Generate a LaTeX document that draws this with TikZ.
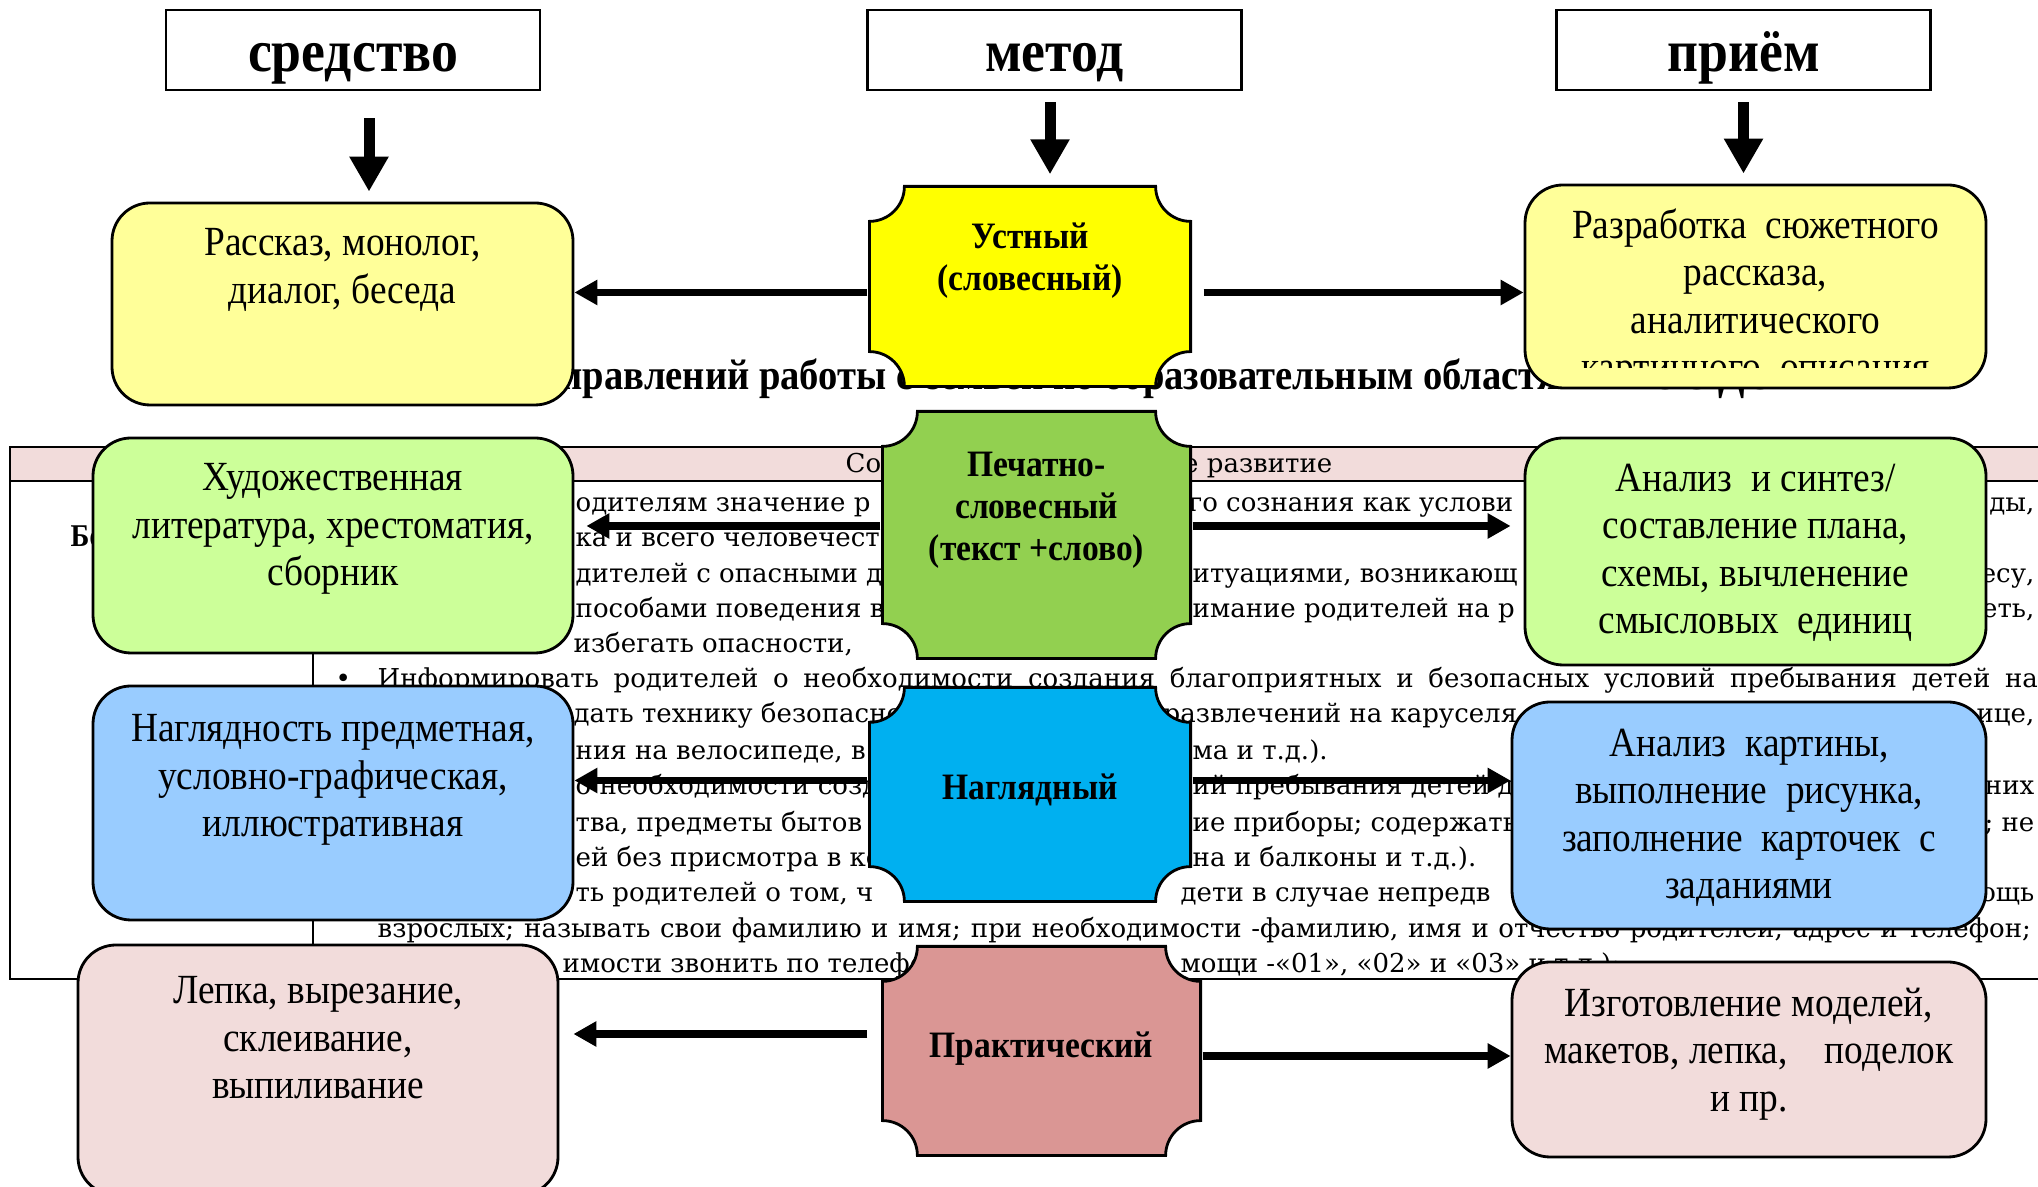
\documentclass[tikz,border=0pt]{standalone}
\usepackage{fontspec}
\setmainfont{Liberation Serif}[FakeStretch=0.9]
\newfontfamily\bodyfont{DejaVu Serif}
\usepackage{tikz}
\usetikzlibrary{arrows.meta}
\usepackage{xcolor}
\definecolor{paleyellow}{HTML}{FFFF99}
\definecolor{palegreen}{HTML}{CCFF99}
\definecolor{paleblue}{HTML}{99CCFF}
\definecolor{palepink}{HTML}{F2DCDB}
\definecolor{plqyellow}{HTML}{FFFF00}
\definecolor{plqgreen}{HTML}{92D050}
\definecolor{plqblue}{HTML}{00B0F0}
\definecolor{plqpink}{HTML}{DA9694}

\begin{document}
\begin{tikzpicture}[
    head/.style={draw, line width=.6pt, fill=white, minimum width=3.74cm, minimum height=.8cm, text height=.44cm, text depth=0pt, font=\bfseries\fontsize{17}{20}\selectfont},
    tbox/.style={draw, rounded corners=.38cm, line width=.8pt, inner sep=0pt},
    boxtext/.style={align=center, inner sep=0pt, font=\fontsize{11.8}{13.5}\selectfont},
    ptext/.style={align=center, inner sep=0pt, font=\bfseries\fontsize{10.6}{12}\selectfont},
    plaque/.style={inner sep=0pt, path picture={
        \filldraw[fill=#1, line width=.8pt]
          ([shift={(.014,-.364)}]path picture bounding box.north west) arc[start angle=-90, end angle=0, radius=.35]
          -- ([shift={(-.364,-.014)}]path picture bounding box.north east) arc[start angle=180, end angle=270, radius=.35]
          -- ([shift={(-.014,.364)}]path picture bounding box.south east) arc[start angle=90, end angle=180, radius=.35]
          -- ([shift={(.364,.014)}]path picture bounding box.south west) arc[start angle=0, end angle=90, radius=.35]
          -- cycle;}},
    downarr/.style={line width=.11cm, -{Triangle[length=.35cm,width=.37cm]}},
    sidearr/.style={line width=.075cm, -{Triangle[length=.23cm,width=.24cm]}},
    bodytext/.style={anchor=base west, inner sep=0pt, font=\bodyfont\fontsize{7.4}{8.5}\selectfont}]
    \useasboundingbox (0,0) rectangle (20.38,11.87);

    % table of the page underneath
    \draw[line width=.6pt, fill=palepink] (.10,7.40) rectangle (20.50,7.06);
    \draw[line width=.6pt] (.10,7.06) -- (.10,2.08) -- (20.50,2.08);
    \draw[line width=.6pt] (3.13,7.06) -- (3.13,2.08);
    \node[anchor=base west, inner sep=0pt, font=\bfseries\fontsize{12.2}{14}\selectfont] (heading) at (5.60,7.97) {правлений работы с семьей по образовательным областям ФГОС ДО»};
    \node[bodytext] (bandL) at (8.45,7.14) {Со};
    \node[bodytext, anchor=base east] (bandR) at (13.33,7.14) {ое развитие};
    \node[anchor=base west, inner sep=0pt, font=\bfseries\fontsize{9}{10}\selectfont] (bez) at (.70,6.40) {Бе};
    \node[bodytext] (bullet) at (3.35,4.99) {•};
    \node[bodytext] (inform) at (3.77,4.99) {\makebox[16.60cm][s]{Информировать родителей о необходимости создания благоприятных и безопасных условий пребывания детей на}};
    \node[bodytext] (vzrosl) at (3.77,2.49) {\makebox[16.53cm][s]{взрослых; называть свои фамилию и имя; при необходимости -фамилию, имя и отчество родителей, адрес и телефон;}};
    \foreach \x/\y/\t [count=\i] in {5.75/6.75/{одителям значение р}, 5.75/6.40/{ка и всего человечест},
        5.75/6.04/{дителей с опасными д}, 5.75/5.69/{пособами поведения в}, 5.73/5.34/{избегать опасности,},
        5.73/4.64/{дать технику безопасно}, 5.75/4.27/{ния на велосипеде, в}, 5.75/3.92/{о необходимости созд},
        5.75/3.55/{тва, предметы бытов}, 5.75/3.20/{ей без присмотра в ко}, 5.75/2.85/{ть родителей о том, ч},
        5.62/2.14/{имости звонить по телефо}}
        \node[bodytext] (lft\i) at (\x,\y) {\t};
    \foreach \x/\y/\t [count=\i] in {11.88/6.75/{го сознания как услови}, 11.92/6.04/{итуациями, возникающ},
        11.92/5.69/{имание родителей на р}, 11.63/4.64/{развлечений на каруселя}, 11.92/4.27/{ма и т.д.).},
        11.92/3.92/{ий пребывания детей д}, 11.92/3.55/{ие приборы; содержать}, 11.92/3.20/{на и балконы и т.д.).},
        11.80/2.85/{дети в случае непредв}, 11.80/2.14/{мощи -«01», «02» и «03» и т.д.);}}
        \node[bodytext] (mid\i) at (\x,\y) {\t};
    \foreach \y/\t [count=\i] in {6.75/{ды,}, 6.04/{есу,}, 5.69/{еть,}, 4.64/{ице,}, 3.92/{них}, 3.55/{; не}, 2.85/{ощь}}
        \node[bodytext, anchor=base east] (rgt\i) at (20.35,\y) {\t};

    \node[head] (sredstvo) at (3.53,11.37) {средство};
    \node[head] (metod) at (10.545,11.37) {метод};
    \node[head] (priem) at (17.435,11.37) {приём};

    \node[tbox, fill=paleyellow, minimum width=4.61cm, minimum height=2.02cm] (rasskaz) at (3.425,8.83) {};
    \node[tbox, fill=palegreen, minimum width=4.80cm, minimum height=2.15cm] (hudozh) at (3.33,6.415) {};
    \node[tbox, fill=paleblue, minimum width=4.80cm, minimum height=2.34cm] (naglyad) at (3.33,3.84) {};
    \node[tbox, fill=palepink, minimum width=4.80cm, minimum height=2.50cm] (lepka) at (3.18,1.17) {};
    \node[tbox, fill=paleyellow, minimum width=4.61cm, minimum height=2.03cm] (razrab) at (17.555,9.005) {};
    \node[tbox, fill=palegreen, minimum width=4.61cm, minimum height=2.27cm] (analiz) at (17.555,6.355) {};
    \node[tbox, fill=paleblue, minimum width=4.74cm, minimum height=2.27cm] (kartina) at (17.49,3.715) {};
    \node[tbox, fill=palepink, minimum width=4.74cm, minimum height=1.95cm] (izgot) at (17.49,1.275) {};

    \node[plaque=plqyellow, minimum width=3.24cm, minimum height=2.03cm] (ustny) at (10.30,9.005) {};
    \node[plaque=plqgreen, minimum width=3.11cm, minimum height=2.50cm] (pechat) at (10.365,6.52) {};
    \node[plaque=plqblue, minimum width=3.24cm, minimum height=2.17cm] (naglyadny) at (10.30,3.925) {};
    \node[plaque=plqpink, minimum width=3.21cm, minimum height=2.12cm] (prakt) at (10.415,1.36) {};

    \node[boxtext] (rasskazT) at (3.425,9.17) {Рассказ, монолог,\\диалог, беседа};
    \node[boxtext] (hudozhT) at (3.33,6.58) {Художественная\\литература, хрестоматия,\\сборник};
    \node[boxtext] (naglyadT) at (3.33,4.07) {Наглядность предметная,\\условно-графическая,\\иллюстративная};
    \node[boxtext] (lepkaT) at (3.18,1.49) {Лепка, вырезание,\\склеивание,\\выпиливание};
    \begin{scope}
        \clip (15.25,8.19) rectangle (19.86,10.02);
        \node[boxtext] (razrabT) at (17.555,8.88) {Разработка\ \ сюжетного\\рассказа,\\аналитического\\картинного\ \ описания};
    \end{scope}
    \node[boxtext] (analizT) at (17.555,6.34) {Анализ\ \ и синтез/\\составление плана,\\схемы, вычленение\\смысловых\ \ единиц};
    \node[boxtext] (kartinaT) at (17.49,3.69) {Анализ\ \ картины,\\выполнение\ \ рисунка,\\заполнение\ \ карточек\ \ с\\заданиями};
    \node[boxtext] (izgotT) at (17.49,1.33) {Изготовление моделей,\\макетов, лепка,\ \ \ \ поделок\\и пр.};

    \node[ptext] (ustnyT) at (10.30,9.26) {Устный\\(словесный)};
    \node[ptext] (pechatT) at (10.365,6.77) {Печатно-\\словесный\\(текст +слово)};
    \node[ptext] (naglyadnyT) at (10.30,3.97) {Наглядный};
    \node[ptext] (praktT) at (10.415,1.38) {Практический};

    \draw[downarr, shorten <=.27cm, shorten >=.10cm] ([xshift=.16cm]sredstvo.south) -- ([xshift=.16cm]sredstvo.south |- rasskaz.north);
    \draw[downarr, shorten <=.11cm, shorten >=.10cm] ([xshift=-.045cm]metod.south) -- ([xshift=-.045cm]metod.south |- ustny.north);
    \draw[downarr, shorten <=.11cm, shorten >=.10cm] (priem.south) -- (priem.south |- razrab.north);

    \draw[sidearr] ([yshift=-.06cm]ustny.west) -- ([yshift=-.06cm]ustny.west -| rasskaz.east);
    \draw[sidearr, shorten <=.11cm] ([yshift=-.06cm]ustny.east) -- ([yshift=-.06cm]ustny.east -| razrab.west);
    \draw[sidearr, shorten >=.12cm] ([yshift=.09cm]pechat.west) -- ([yshift=.09cm]pechat.west -| hudozh.east);
    \draw[sidearr, shorten >=.13cm] ([yshift=.09cm]pechat.east) -- ([yshift=.09cm]pechat.east -| analiz.west);
    \draw[sidearr] ([yshift=.14cm]naglyadny.west) -- ([yshift=.14cm]naglyadny.west -| naglyad.east);
    \draw[sidearr] ([yshift=.14cm]naglyadny.east) -- ([yshift=.14cm]naglyadny.east -| kartina.west);
    \draw[sidearr, shorten >=.14cm] ([xshift=-.13cm, yshift=.17cm]prakt.west) -- ([yshift=.17cm]prakt.west -| lepka.east);
    \draw[sidearr] ([yshift=-.05cm]prakt.east) -- ([yshift=-.05cm]prakt.east -| izgot.west);
\end{tikzpicture}
\end{document}
